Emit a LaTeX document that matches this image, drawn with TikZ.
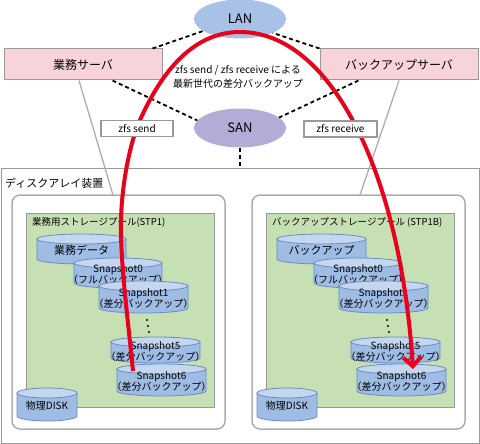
\documentclass[tikz,border=0pt]{standalone}
\usepackage{fontspec}
\setmainfont{Noto Sans CJK JP}
\usetikzlibrary{arrows.meta,shapes.geometric}
\definecolor{srvpink}{HTML}{F9D3DA}
\definecolor{lanblue}{HTML}{A7C2E6}
\definecolor{sanpurple}{HTML}{B4ACD6}
\definecolor{poolgreen}{HTML}{C6E0B4}
\definecolor{cylbodyc}{HTML}{9EBCE4}
\definecolor{cyltopc}{HTML}{C4D7EF}
\definecolor{cyllinec}{HTML}{6A8CC0}
\definecolor{redarrow}{HTML}{E8001C}
\definecolor{frame}{HTML}{999999}
\newcommand\dbcyl[6]{%
  \pgfmathsetmacro\cylcx{(#2+#3)/2}%
  \pgfmathsetmacro\cylrx{(#3-#2)/2}%
  \pgfmathsetmacro\cylcy{(#4+#5)/2+1}%
  \filldraw[cylb] (#2,#4) -- (#2,#5) arc[start angle=180,end angle=0,x radius=\cylrx,y radius=5] -- (#3,#4) -- cycle;
  \filldraw[cylt] (\cylcx,#4) ellipse[x radius=\cylrx,y radius=5];
  \node[cyltxt] (#1) at (\cylcx,\cylcy) {#6};
}
\begin{document}
\begin{tikzpicture}[x=1pt,y=-1pt,
  srv/.style={draw=frame,fill=srvpink,line width=1pt,minimum width=158pt,minimum height=31pt,inner sep=0pt,font=\fontsize{12}{14}\selectfont},
  net/.style={ellipse,minimum width=92pt,minimum height=39pt,inner sep=0pt,font=\fontsize{13}{15}\selectfont},
  dsh/.style={line width=1.8pt,dash pattern=on 4pt off 3pt},
  lbl/.style={draw=frame,fill=white,line width=1.2pt,minimum height=16pt,inner sep=0pt,font=\fontsize{10}{12}\selectfont},
  callout/.style={draw=frame!80,line width=1.3pt},
  encl/.style={draw=frame!80,fill=white,rounded corners=8pt,line width=1.5pt,minimum width=213pt,minimum height=234pt,anchor=north west,inner sep=0pt,outer sep=0pt},
  pool/.style={draw=frame,fill=poolgreen,line width=0.8pt,minimum width=188pt,minimum height=194pt,anchor=north west,inner sep=0pt,outer sep=0pt},
  pooltxt/.style={anchor=west,inner sep=0pt,font=\fontsize{9.5}{11}\selectfont},
  cylb/.style={fill=cylbodyc,draw=cyllinec,line width=0.8pt},
  cylt/.style={fill=cyltopc,draw=cyllinec,line width=0.8pt},
  cyltxt/.style={align=center,inner sep=0pt,font=\fontsize{10}{11}\selectfont},
  redline/.style={draw=redarrow,line width=4pt}
]
\useasboundingbox (0,0) rectangle (480,444);

% network ellipses
\node[net,fill=lanblue] (lan) at (240,19) {LAN};
\node[net,fill=sanpurple] (san) at (240,128) {SAN};

% servers
\node[srv] (bsv) at (83,64.5) {業務サーバ};
\node[srv] (bkp) at (399,64.5) {バックアップサーバ};

% dashed network links
\draw[dsh] ([xshift=-10pt]bsv.north east) -- (lan.198);
\draw[dsh] (bkp.north west) -- (lan.337);
\draw[dsh] ([xshift=-50pt]bsv.south east) -- (san.170);
\draw[dsh] ([xshift=39pt]bkp.south west) -- (san.15);

% middle text
\node[align=center,inner sep=0pt,font=\fontsize{10}{14}\selectfont] (mid) at (238,77) {zfs send / zfs receive による\\最新世代の差分バックアップ};

% disk array
\node[draw=frame,line width=1pt,minimum width=478pt,minimum height=275pt,anchor=north west,inner sep=0pt,outer sep=0pt] (arr) at (1,168) {};
\node[anchor=west,inner sep=0pt,font=\fontsize{11}{13}\selectfont] (arrtxt) at (5,183) {ディスクアレイ装置};
\draw[dsh] (san.south) -- (san.south |- arr.north);

% enclosures
\node[encl] (encL) at (12,195) {};
\node[encl] (encR) at (252,195) {};
\draw[callout] ([xshift=-4pt]bsv.south) -- ([xshift=-5.5pt]encL.north);
\draw[callout] (bkp.south) -- ([xshift=1.5pt]encR.north);

% pools
\node[pool] (poolL) at (26,213) {};
\node[pool] (poolR) at (266,213) {};
\node[pooltxt] (poolLt) at (32,222) {業務用ストレージプール(STP1)};
\node[pooltxt] (poolRt) at (272,222) {バックアップストレージプール (STP1B)};

% left cylinders
\dbcyl{dataL}{37}{126}{239}{259}{\fontsize{11}{13}\selectfont 業務データ}
\dbcyl{snapL0}{74}{162}{263}{283}{Snapshot0\\（フルバックアップ）}
\dbcyl{snapL1}{99}{188}{286}{308}{Snapshot1\\（差分バックアップ）}
\dbcyl{snapL5}{111}{200}{342}{358}{Snapshot5\\（差分バックアップ）}
\dbcyl{snapL6}{117}{206}{369}{391}{Snapshot6\\（差分バックアップ）}
\dbcyl{diskL}{17}{77}{393}{416}{\fontsize{10}{12}\selectfont 物理DISK}
\fill (147,320) circle (1.1pt) (148,326) circle (1.1pt) (149,332) circle (1.1pt);

% right cylinders
\dbcyl{dataR}{277}{366}{239}{259}{\fontsize{11}{13}\selectfont バックアップ}
\dbcyl{snapR0}{314}{402}{263}{283}{Snapshot0\\（フルバックアップ）}
\dbcyl{snapR1}{339}{428}{286}{308}{Snapshot1\\（差分バックアップ）}
\dbcyl{snapR5}{351}{440}{342}{358}{Snapshot5\\（差分バックアップ）}
\dbcyl{snapR6}{357}{446}{369}{391}{Snapshot6\\（差分バックアップ）}
\dbcyl{diskR}{257}{317}{393}{416}{\fontsize{10}{12}\selectfont 物理DISK}
\fill (387,320) circle (1.1pt) (388,326) circle (1.1pt) (389,332) circle (1.1pt);

% red transfer arrow
\draw[redline,-{Straight Barb[length=9pt,width=18pt]}]
  ([xshift=-28.5pt,yshift=10pt]snapL6.center)
  .. controls (128,320) and (120,260) .. (121,220)
  .. controls (122,180) and (131,140) .. (140,120)
  .. controls (155,87) and (185,32) .. (240,32)
  .. controls (330,32) and (400,170) .. ([xshift=11.5pt,yshift=12pt]snapR6.center);

% command labels (over the red arrow)
\node[lbl,minimum width=72pt] (send) at (137,128.5) {zfs send};
\node[lbl,minimum width=73pt] (recv) at (340.5,129) {zfs receive};
\end{tikzpicture}
\end{document}
